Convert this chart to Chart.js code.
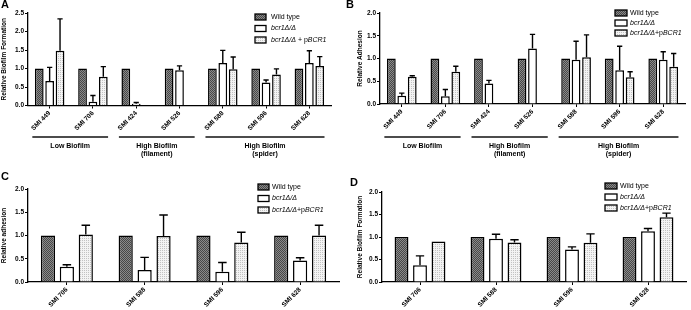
<!doctype html>
<html lang="en">
<head>
  <meta charset="utf-8">
  <title>Bcr1: biofilm formation and adhesion</title>
  <style>
    * { margin: 0; padding: 0; }
    body { width: 691px; height: 310px; background: white; position: relative; overflow: hidden; }
    .panel { position: absolute; }
    .letter { position: absolute; font: bold 11px 'Liberation Sans', Arial, sans-serif; color: black; }
  </style>
</head>
<body>
  <div class="panel" style="left:0;top:0;width:345px;height:160px"><canvas id="chartA"></canvas></div>
  <div class="panel" style="left:345px;top:0;width:346px;height:160px"><canvas id="chartB"></canvas></div>
  <div class="panel" style="left:0;top:160px;width:345px;height:150px"><canvas id="chartC"></canvas></div>
  <div class="panel" style="left:345px;top:160px;width:346px;height:150px"><canvas id="chartD"></canvas></div>
  <div class="letter" style="left:1px;top:-2px">A</div>
  <div class="letter" style="left:346px;top:-2px">B</div>
  <div class="letter" style="left:1px;top:170px">C</div>
  <div class="letter" style="left:350px;top:176px">D</div>

  <script src="https://cdn.jsdelivr.net/npm/chart.js"></script>
  <script>
    // strains
    const strainsAB = ['SMI 449', 'SMI 706', 'SMI 424', 'SMI 526', 'SMI 588', 'SMI 596', 'SMI 628'];
    const strainsCD = ['SMI 706', 'SMI 588', 'SMI 596', 'SMI 628'];

    // A: relative biofilm formation
    const aWT      = [1, 1, 1, 1, 1, 1, 1];
    const aMut     = [0.66, 0.10, 0.05, 0.95, 1.15, 0.62, 1.15];
    const aMutErr  = [0.37, 0.17, 0.03, 0.12, 0.34, 0.07, 0.33];
    const aComp    = [1.48, 0.78, null, null, 0.98, 0.84, 1.07];
    const aCompErr = [0.86, 0.27, null, null, 0.33, 0.15, 0.25];

    // B: relative adhesion
    const bWT      = [1, 1, 1, 1, 1, 1, 1];
    const bMut     = [0.18, 0.17, 0.45, 1.22, 0.97, 0.74, 0.97];
    const bMutErr  = [0.06, 0.15, 0.07, 0.31, 0.41, 0.53, 0.18];
    const bComp    = [0.60, 0.71, null, null, 1.03, 0.59, 0.82];
    const bCompErr = [0.02, 0.12, null, null, 0.49, 0.12, 0.29];

    // C: relative adhesion
    const cWT      = [1, 1, 1, 1];
    const cMut     = [0.33, 0.26, 0.22, 0.46];
    const cMutErr  = [0.04, 0.27, 0.20, 0.06];
    const cComp    = [1.02, 0.99, 0.85, 1.00];
    const cCompErr = [0.20, 0.45, 0.22, 0.22];

    // D: relative biofilm formation
    const dWT      = [1, 1, 1, 1];
    const dMut     = [0.37, 0.96, 0.72, 1.13];
    const dMutErr  = [0.21, 0.10, 0.06, 0.06];
    const dComp    = [0.90, 0.88, 0.87, 1.44];
    const dCompErr = [0, 0.06, 0.20, 0.09];

    // legend texts: [text, 'i' italic | 'n' normal]
    const legendA = [[['Wild type', 'n']], [['bcr1\u0394/\u0394', 'i']], [['bcr1\u0394/\u0394', 'i'], [' + p', 'n'], ['BCR1', 'i']]];
    const legendBCD = [[['Wild type', 'n']], [['bcr1\u0394/\u0394', 'i']], [['bcr1\u0394/\u0394', 'i'], ['+p', 'n'], ['BCR1', 'i']]];

    // strain groups under panels A and B (first index, last index, text lines)
    const groupsAB = [
      [0, 1, ['Low Biofilm']],
      [2, 3, ['High Biofilm', '(filament)']],
      [4, 6, ['High Biofilm', '(spider)']]
    ];

    const fam = "'Liberation Sans', Arial, Helvetica, sans-serif";
    Chart.defaults.color = '#000';
    Chart.defaults.font.family = fam;

    // fill patterns
    function makePattern(cells) {
      const c = document.createElement('canvas');
      c.width = cells[0].length; c.height = cells.length;
      const g = c.getContext('2d');
      cells.forEach((row, y) => row.forEach((col, x) => { g.fillStyle = col; g.fillRect(x, y, 1, 1); }));
      return g.createPattern(c, 'repeat');
    }
    const wtFill = makePattern([['#474747', '#8a8a8a'], ['#8a8a8a', '#474747']]);
    const compFill = makePattern([['#c2c2c2', '#f3f3f3'], ['#f3f3f3', '#f3f3f3']]);

    const errorBars = {
      id: 'errorBars',
      afterDatasetsDraw(chart) {
        const ctx = chart.ctx, ys = chart.scales.y;
        chart.data.datasets.forEach((ds, i) => {
          if (!ds.errors) return;
          chart.getDatasetMeta(i).data.forEach((bar, j) => {
            const v = ds.data[j], e = ds.errors[j];
            if (v == null || !e) return;
            const top = ys.getPixelForValue(v + e);
            const half = bar.width * 0.3;
            ctx.save();
            ctx.strokeStyle = '#000';
            ctx.lineWidth = 1.4;
            ctx.beginPath();
            ctx.moveTo(bar.x, bar.y);
            ctx.lineTo(bar.x, top);
            ctx.moveTo(bar.x - half, top);
            ctx.lineTo(bar.x + half, top);
            ctx.stroke();
            ctx.restore();
          });
        });
      }
    };

    function legendPlugin(lg) {
      return {
        id: 'panelLegend',
        afterDraw(chart) {
          const ctx = chart.ctx;
          chart.data.datasets.forEach((ds, i) => {
            const y = lg.y + i * lg.dy;
            ctx.save();
            ctx.fillStyle = ds.backgroundColor;
            ctx.fillRect(lg.x, y - lg.bh / 2, lg.bw, lg.bh);
            ctx.strokeStyle = '#000';
            ctx.lineWidth = 1.3;
            ctx.strokeRect(lg.x, y - lg.bh / 2, lg.bw, lg.bh);
            ctx.fillStyle = '#000';
            ctx.textBaseline = 'middle';
            let tx = lg.tx;
            ds.legendParts.forEach(([txt, st]) => {
              ctx.font = (st === 'i' ? 'italic ' : '') + '7px ' + fam;
              ctx.fillText(txt, tx, y);
              tx += ctx.measureText(txt).width;
            });
            ctx.restore();
          });
        }
      };
    }

    function groupPlugin(groups, lineY) {
      return {
        id: 'strainGroups',
        afterDraw(chart) {
          const ctx = chart.ctx, xs = chart.scales.x;
          const w = xs.width / chart.data.labels.length;
          groups.forEach(([a, b, lines]) => {
            const x1 = xs.getPixelForValue(a) - 0.4 * w;
            const x2 = xs.getPixelForValue(b) + 0.35 * w;
            ctx.save();
            ctx.strokeStyle = '#111';
            ctx.lineWidth = 1.4;
            ctx.beginPath();
            ctx.moveTo(x1, lineY);
            ctx.lineTo(x2, lineY);
            ctx.stroke();
            ctx.fillStyle = '#000';
            ctx.textAlign = 'center';
            ctx.textBaseline = 'middle';
            ctx.font = 'bold 7px ' + fam;
            lines.forEach((t, k) => ctx.fillText(t, (x1 + x2) / 2, lineY + 9 + k * 8));
            ctx.restore();
          });
        }
      };
    }

    function buildPanel(id, p) {
      const L = p.layout;
      const plugins = [errorBars, legendPlugin(p.legend)];
      if (p.groups) plugins.push(groupPlugin(p.groups, p.groupY));
      new Chart(document.getElementById(id), {
        type: 'bar',
        data: {
          labels: p.labels,
          datasets: [
            { label: 'Wild type', data: p.series[0], errors: null, backgroundColor: wtFill, legendParts: p.legendParts[0] },
            { label: 'bcr1\u0394/\u0394', data: p.series[1], errors: p.errs[1], backgroundColor: '#ffffff', legendParts: p.legendParts[1] },
            { label: 'bcr1\u0394/\u0394+pBCR1', data: p.series[2], errors: p.errs[2], backgroundColor: compFill, legendParts: p.legendParts[2] }
          ]
        },
        options: {
          responsive: true,
          maintainAspectRatio: false,
          animation: false,
          categoryPercentage: p.catPct,
          barPercentage: p.barPct,
          borderColor: '#000',
          borderWidth: 1.5,
          layout: { padding: { left: L.padL, top: L.top, right: L.W - L.right, bottom: 0 } },
          scales: {
            x: {
              ticks: { maxRotation: 45, minRotation: 45, padding: 1, font: { size: 6.5, weight: 'bold' } },
              grid: { offset: false, drawOnChartArea: false, tickLength: 3, color: '#000' },
              border: { color: '#000', width: 1.3 },
              afterFit: s => { s.height = L.H - L.bottom; }
            },
            y: {
              min: 0,
              max: p.ymax,
              ticks: { stepSize: 0.5, padding: 1, font: { size: 6.5, weight: 'bold' }, callback: v => v.toFixed(1) },
              grid: { drawOnChartArea: false, tickLength: 3, color: '#000' },
              border: { color: '#000', width: 1.3 },
              title: { display: true, text: p.title, padding: 0, font: { size: 6.5, weight: 'bold' } },
              afterFit: s => { s.width = L.yW; }
            }
          },
          plugins: { legend: { display: false }, tooltip: { enabled: false } }
        },
        plugins
      });
    }

    buildPanel('chartA', {
      labels: strainsAB, series: [aWT, aMut, aComp], errs: [null, aMutErr, aCompErr],
      ymax: 2.5, title: 'Relative Biofilm Formation', legendParts: legendA,
      catPct: 0.72, barPct: 0.84,
      layout: { W: 345, H: 160, padL: 0, yW: 28, top: 13, right: 331, bottom: 105.5 },
      legend: { x: 255, y: 17, dy: 11.5, bw: 11, bh: 6, tx: 271 },
      groups: groupsAB, groupY: 137
    });
    buildPanel('chartB', {
      labels: strainsAB, series: [bWT, bMut, bComp], errs: [null, bMutErr, bCompErr],
      ymax: 2.0, title: 'Relative Adhesion', legendParts: legendBCD,
      catPct: 0.72, barPct: 0.84,
      layout: { W: 346, H: 160, padL: 11, yW: 24, top: 13, right: 340, bottom: 104 },
      legend: { x: 270, y: 13, dy: 10, bw: 12, bh: 6, tx: 285 },
      groups: groupsAB, groupY: 137
    });
    buildPanel('chartC', {
      labels: strainsCD, series: [cWT, cMut, cComp], errs: [null, cMutErr, cCompErr],
      ymax: 2.0, title: 'Relative adhesion', legendParts: legendBCD,
      catPct: 0.73, barPct: 0.75,
      layout: { W: 345, H: 150, padL: 0, yW: 28, top: 29, right: 339, bottom: 122 },
      legend: { x: 258, y: 27, dy: 11.5, bw: 11, bh: 6, tx: 272 }
    });
    buildPanel('chartD', {
      labels: strainsCD, series: [dWT, dMut, dComp], errs: [null, dMutErr, dCompErr],
      ymax: 2.0, title: 'Relative Biofilm Formation', legendParts: legendBCD,
      catPct: 0.73, barPct: 0.75,
      layout: { W: 346, H: 150, padL: 11, yW: 26, top: 32, right: 341, bottom: 122 },
      legend: { x: 260, y: 26, dy: 11, bw: 12, bh: 6, tx: 275 }
    });
  </script>
</body>
</html>
